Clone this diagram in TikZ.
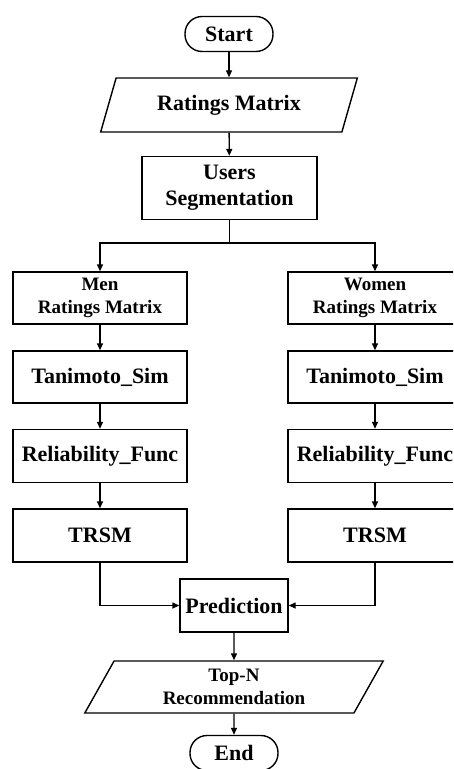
\documentclass[tikz,border=0pt]{standalone}
\usepackage{fontspec}
\setmainfont{Liberation Serif}
\usetikzlibrary{shapes.geometric,arrows.meta}

\begin{document}
\begin{tikzpicture}[
            x = 1pt, y = -1pt,
            every node/.style={draw, line width=1.4pt, align=center, inner sep=0pt,
                font=\bfseries\fontsize{22}{26}\selectfont},
            box/.style={rectangle, minimum width=174pt, minimum height=53pt},
            term/.style={rectangle, rounded corners=17pt, minimum width=88pt, minimum height=35pt},
            io/.style={trapezium, trapezium left angle=64, trapezium right angle=116, trapezium stretches=true},
            small/.style={font=\bfseries\fontsize{19}{23}\selectfont},
            line/.style={line width=1.4pt},
            arrow/.style={line, -{Triangle[length=7pt, width=6pt]}},
            ]

        \useasboundingbox (0,0) rectangle (453,769);
        \clip (0,0) rectangle (453,769);

        \node[term] (start) at (229,34) {Start};
        \node[io, minimum width=257pt, minimum height=54pt] (ratings) at (229,105) {Ratings Matrix};
        \node[box, minimum width=175pt, minimum height=63pt] (seg) at (229.5,188) {Users\\Segmentation};
        \coordinate (split) at (229.5,243);

        \node[box, small, minimum height=52pt] (men) at (100,298) {Men\\Ratings Matrix};
        \node[box, minimum height=52pt] (tanL) at (100,377) {Tanimoto\_Sim};
        \node[box] (relL) at (100,456) {Reliability\_Func};
        \node[box] (trsmL) at (100,535.5) {TRSM};

        \node[box, small, minimum height=52pt] (women) at (375,298) {Women\\Ratings Matrix};
        \node[box, minimum height=52pt] (tanR) at (375,377) {Tanimoto\_Sim};
        \node[box] (relR) at (375,456) {Reliability\_Func};
        \node[box] (trsmR) at (375,535.5) {TRSM};

        \node[box, minimum width=108pt] (pred) at (234,605.5) {Prediction};
        \node[io, small, minimum width=299pt, minimum height=52pt] (topn) at (234,687) {Top-N\\Recommendation};
        \node[term] (end) at (234,753) {End};

        \draw[arrow] (start) -- (ratings);
        \draw[arrow] (ratings) -- (seg);
        \draw[line] (seg) -- (split);
        \draw[arrow] (split) -| (men);
        \draw[arrow] (split) -| (women);
        \draw[arrow] (men) -- (tanL);
        \draw[arrow] (tanL) -- (relL);
        \draw[arrow] (relL) -- (trsmL);
        \draw[arrow] (women) -- (tanR);
        \draw[arrow] (tanR) -- (relR);
        \draw[arrow] (relR) -- (trsmR);
        \draw[arrow] (trsmL) |- (pred);
        \draw[arrow] (trsmR) |- (pred);
        \draw[arrow] (pred.south -| topn) -- (topn);
        \draw[arrow] (topn) -- (end);
    \end{tikzpicture}
\end{document}
